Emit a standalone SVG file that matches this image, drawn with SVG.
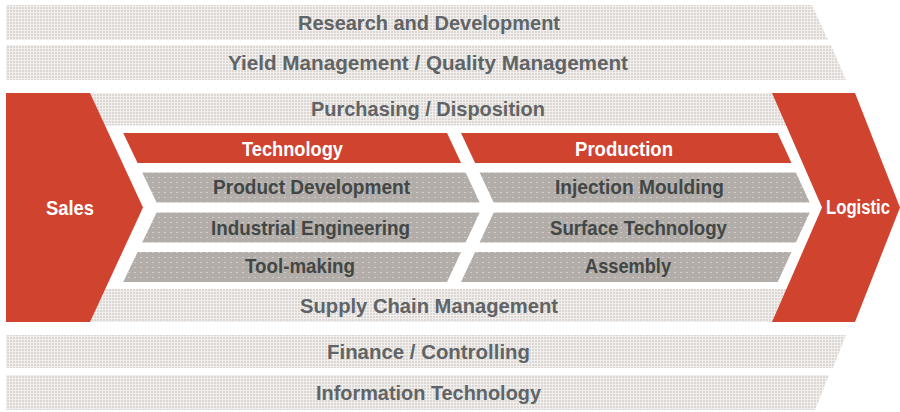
<svg xmlns="http://www.w3.org/2000/svg" width="900" height="412" viewBox="0 0 900 412">
  <defs>
    <pattern id="light" width="3" height="3" patternUnits="userSpaceOnUse">
      <rect width="3" height="3" fill="#dcd7d3"/>
      <rect width="3" height="1" fill="#f1efed"/>
      <rect width="1" height="3" fill="#f1efed"/>
    </pattern>
    <pattern id="grey" width="6" height="5" patternUnits="userSpaceOnUse">
      <rect width="6" height="5" fill="#b2ada9"/>
      <rect x="2" y="2" width="2" height="1" fill="#cfcbc8"/>
    </pattern>
    <style>
      .band { fill: url(#light); }
      .red { fill: #d0432f; }
      .row { fill: url(#grey); }
      text { font-family: "Liberation Sans", Arial, sans-serif; font-weight: bold; text-anchor: middle; }
      .bt { font-size: 21px; fill: #606466; }
      .rt { font-size: 21px; fill: #424746; }
      .wt { font-size: 20.5px; fill: #ffffff; }
      .st { font-size: 21px; fill: #ffffff; }
    </style>
  </defs>
  <rect width="900" height="412" fill="#ffffff"/>

  <g id="research">
    <polygon class="band" points="6,5 812,5 828,40 6,40"/>
    <text class="bt" x="429" y="30" textLength="262" lengthAdjust="spacingAndGlyphs">Research and Development</text>
  </g>
  <g id="yield">
    <polygon class="band" points="6,45 831,45 846,80 6,80"/>
    <text class="bt" x="428" y="70" textLength="400" lengthAdjust="spacingAndGlyphs">Yield Management / Quality Management</text>
  </g>
  <g id="purchasing">
    <rect class="band" x="6" y="93" width="794" height="32.5"/>
    <text class="bt" x="428" y="115.5" textLength="234" lengthAdjust="spacingAndGlyphs">Purchasing / Disposition</text>
  </g>
  <g id="supply-chain">
    <rect class="band" x="6" y="289" width="794" height="33"/>
    <text class="bt" x="429" y="312.5" textLength="258" lengthAdjust="spacingAndGlyphs">Supply Chain Management</text>
  </g>
  <g id="finance">
    <polygon class="band" points="6,335 846,335 833,368 6,368"/>
    <text class="bt" x="428.5" y="359" textLength="203" lengthAdjust="spacingAndGlyphs">Finance / Controlling</text>
  </g>
  <g id="it">
    <polygon class="band" points="6,375 829,375 815,410 6,410"/>
    <text class="bt" x="428.5" y="400" textLength="225" lengthAdjust="spacingAndGlyphs">Information Technology</text>
  </g>

  <g id="sales">
    <polygon class="red" points="6,93 90,93 143,207.5 90,322 6,322"/>
    <text class="st" x="70" y="214.5" textLength="48" lengthAdjust="spacingAndGlyphs">Sales</text>
  </g>
  <g id="logistic">
    <polygon class="red" points="772,93 855,93 900,207.5 855,322 772,322 822,207.5"/>
    <text class="st" x="858" y="214" style="font-size:20px" textLength="64" lengthAdjust="spacingAndGlyphs">Logistic</text>
  </g>

  <g id="technology">
    <polygon class="red" points="123.2,133 447,133 461.1,163 137.6,163"/>
    <text class="wt" x="292.5" y="155.5" textLength="101" lengthAdjust="spacingAndGlyphs">Technology</text>
  </g>
  <g id="production">
    <polygon class="red" points="461,133 777.7,133 791.5,163 475.1,163"/>
    <text class="wt" x="624" y="155.5" textLength="98" lengthAdjust="spacingAndGlyphs">Production</text>
  </g>
  <g id="product-development">
    <polygon class="row" points="142.2,172.5 465.6,172.5 479.7,202.5 156.6,202.5"/>
    <text class="rt" x="311.5" y="193.5" textLength="197" lengthAdjust="spacingAndGlyphs">Product Development</text>
  </g>
  <g id="injection-moulding">
    <polygon class="row" points="479.6,172.5 795.9,172.5 809.7,202.5 493.7,202.5"/>
    <text class="rt" x="639.5" y="193.5" textLength="169" lengthAdjust="spacingAndGlyphs">Injection Moulding</text>
  </g>
  <g id="industrial-engineering">
    <polygon class="row" points="156.6,212.5 479.7,212.5 465.6,242.5 142.2,242.5"/>
    <text class="rt" x="310.5" y="234.5" textLength="199" lengthAdjust="spacingAndGlyphs">Industrial Engineering</text>
  </g>
  <g id="surface-technology">
    <polygon class="row" points="493.7,212.5 809.7,212.5 795.9,242.5 479.6,242.5"/>
    <text class="rt" x="638.5" y="234.5" textLength="177" lengthAdjust="spacingAndGlyphs">Surface Technology</text>
  </g>
  <g id="tool-making">
    <polygon class="row" points="137.6,252 461.1,252 447,282 123.2,282"/>
    <text class="rt" x="300" y="272.5" textLength="110" lengthAdjust="spacingAndGlyphs">Tool-making</text>
  </g>
  <g id="assembly">
    <polygon class="row" points="475.1,252 791.5,252 777.7,282 461,282"/>
    <text class="rt" x="628" y="272.5" textLength="86" lengthAdjust="spacingAndGlyphs">Assembly</text>
  </g>

  <g id="connectors"/>
</svg>
